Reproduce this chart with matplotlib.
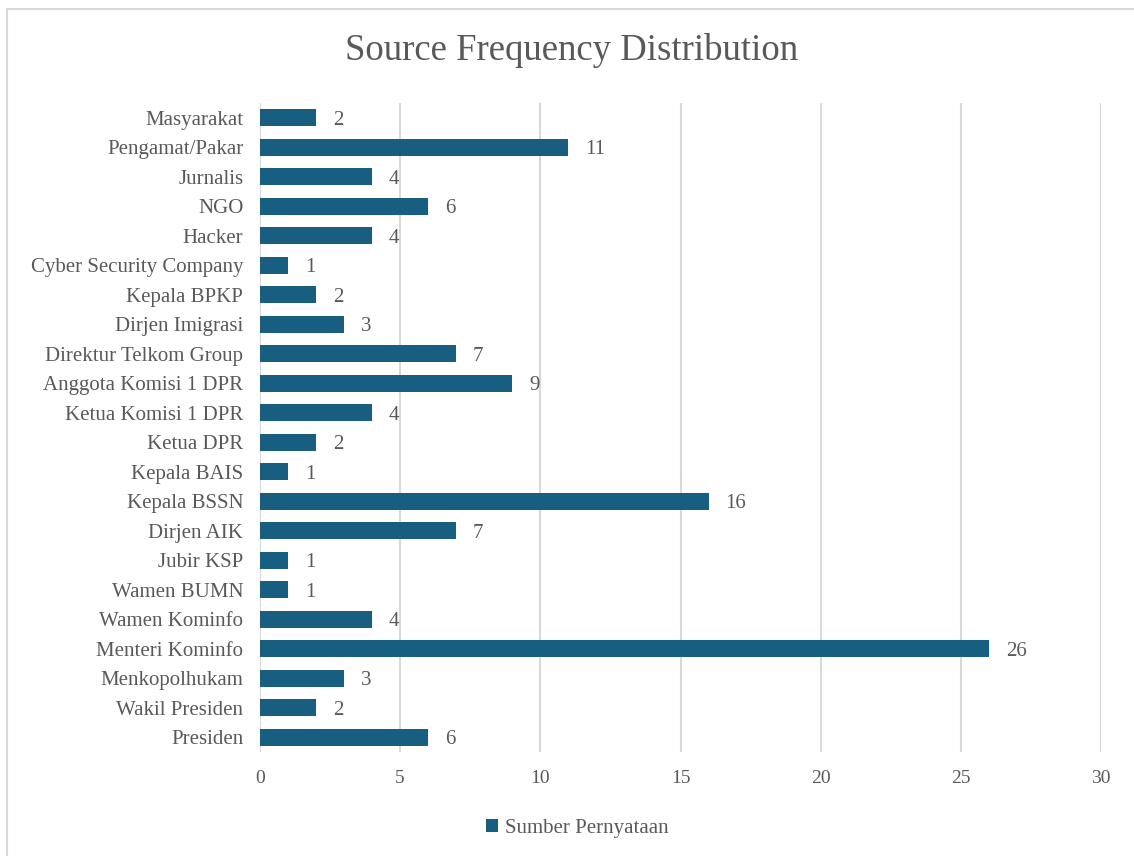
import matplotlib
matplotlib.use("Agg")
import matplotlib.pyplot as plt
from matplotlib.patches import Rectangle

categories = ["Presiden", "Wakil Presiden", "Menkopolhukam", "Menteri Kominfo",
              "Wamen Kominfo", "Wamen BUMN", "Jubir KSP", "Dirjen AIK", "Kepala BSSN",
              "Kepala BAIS", "Ketua DPR", "Ketua Komisi 1 DPR", "Anggota Komisi 1 DPR",
              "Direktur Telkom Group", "Dirjen Imigrasi", "Kepala BPKP",
              "Cyber Security Company", "Hacker", "NGO", "Jurnalis", "Pengamat/Pakar",
              "Masyarakat"]
values = [6, 2, 3, 26, 4, 1, 1, 7, 16, 1, 2, 4, 9, 7, 3, 2, 1, 4, 6, 4, 11, 2]
xticks = [0, 5, 10, 15, 20, 25, 30]
series_name = "Sumber Pernyataan"
title = "Source Frequency Distribution"

plt.rcParams['font.family'] = ['Liberation Serif', 'DejaVu Serif']
TXT = '#595959'
BAR = '#175E80'
GRID = '#D9D9D9'

fig = plt.figure(figsize=(11.34, 8.56), dpi=100)
fig.patches.append(Rectangle((7/1134, -0.5), 2, 1.5 - 9/856, transform=fig.transFigure,
                             fill=False, edgecolor=GRID, linewidth=1.5, zorder=0))
ax = fig.add_axes([260/1134, 1 - 752/856, 841/1134, 649/856])

y = list(range(len(categories)))
bars = ax.barh(y, values, height=0.58, color=BAR, zorder=3)
for yi, v in zip(y, values):
    ax.text(v + 0.6, yi, str(v), va='center_baseline', ha='left', fontsize=15, color=TXT)

ax.set_xlim(0, 30)
ax.set_ylim(-0.5, len(categories) - 0.5)
ax.set_xticks(xticks)
ax.set_xticklabels([str(t) for t in xticks], fontsize=14, color=TXT)
ax.set_yticks(y)
ax.set_yticklabels(categories, fontsize=15, color=TXT)
ax.tick_params(axis='both', length=0)
ax.tick_params(axis='y', pad=12)
ax.tick_params(axis='x', pad=13)
ax.xaxis.grid(True, color=GRID, linewidth=1.5, zorder=0)
for s in ax.spines.values():
    s.set_visible(False)

fig.text(572/1134, 1 - 50/856, title, ha='center', va='center', fontsize=26.5, color=TXT)

leg = fig.legend([bars], [series_name], loc='center', bbox_to_anchor=(577/1134, 1 - 828/856),
                 frameon=False, fontsize=15, handlelength=0.6, handleheight=0.6,
                 handletextpad=0.3, labelcolor=TXT)

fig.savefig("out.png", dpi=100)
